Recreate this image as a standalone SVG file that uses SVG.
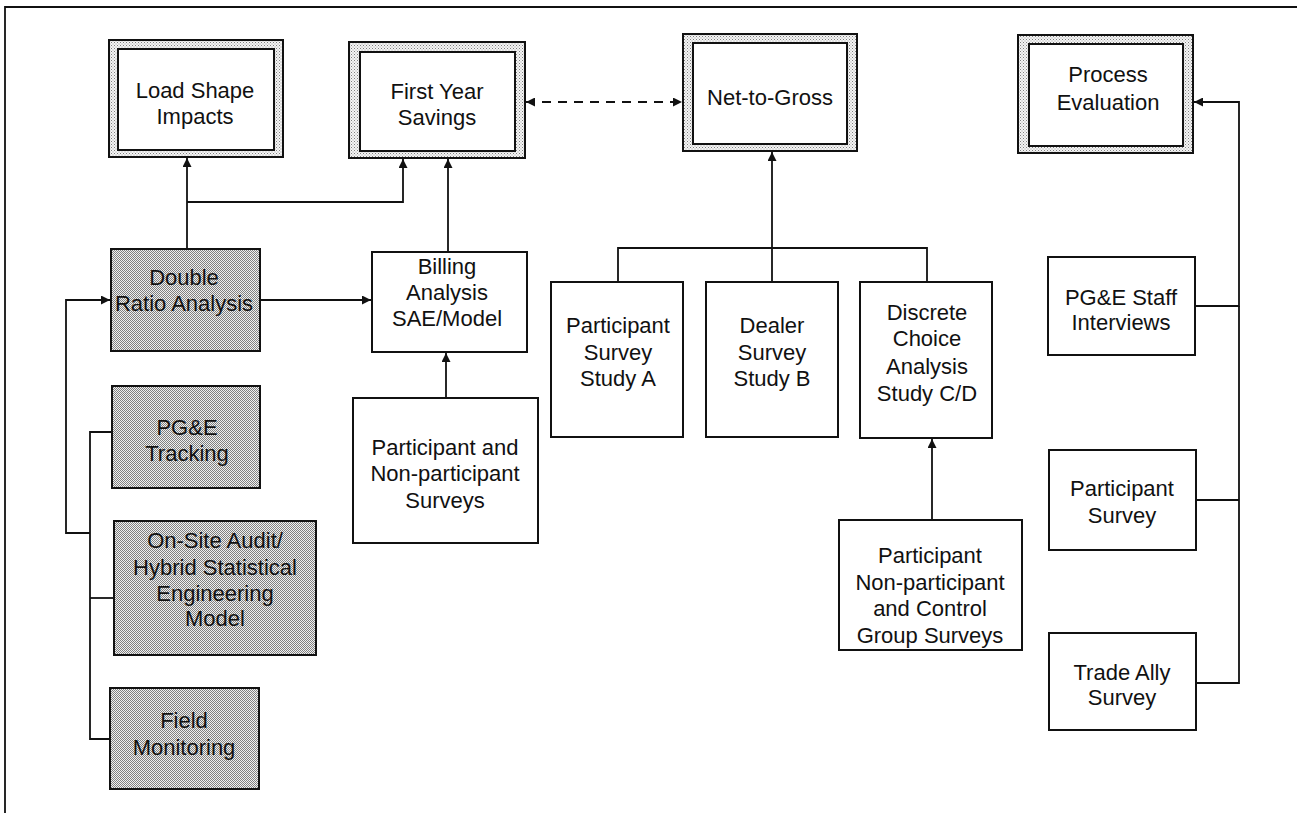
<svg xmlns="http://www.w3.org/2000/svg" width="1297" height="813" viewBox="0 0 1297 813">
<style>
text{font-family:"Liberation Sans",Arial,sans-serif;font-size:22px;fill:#111;text-anchor:middle}
.box{fill:#fff;stroke:#111;stroke-width:2}
.shade{fill:url(#dark);stroke:#111;stroke-width:2}
.ring{fill:url(#light);stroke:#111;stroke-width:2}
.inner{fill:#fff;stroke:#111;stroke-width:2}
.ln{fill:none;stroke:#111;stroke-width:1.8}
.dash{fill:none;stroke:#111;stroke-width:1.8;stroke-dasharray:9 7}
</style>
<defs>
<pattern id="dark" width="2" height="2" patternUnits="userSpaceOnUse">
<rect width="2" height="2" fill="#f0f0f0"/>
<rect width="1" height="1" fill="#808080"/>
<rect x="1" y="1" width="1" height="1" fill="#808080"/>
</pattern>
<pattern id="light" width="3" height="3" patternUnits="userSpaceOnUse">
<rect width="3" height="3" fill="#f4f4f4"/>
<rect width="1" height="1" fill="#808080"/>
<rect x="1.5" y="1.5" width="1" height="1" fill="#a0a0a0"/>
</pattern>
<marker id="ah" viewBox="0 0 10 10" refX="10" refY="5" markerWidth="5" markerHeight="5" orient="auto-start-reverse" markerUnits="strokeWidth">
<path d="M0,0 L10,5 L0,10 z" fill="#111"/>
</marker>
</defs>
<rect width="1297" height="813" fill="#fff"/>
<path class="ln" d="M5,813 V7 H1297"/>

<g id="connectors">
<path class="ln" d="M187,249 V158" marker-end="url(#ah)"/>
<path class="ln" d="M187,202 H403 V159" marker-end="url(#ah)"/>
<path class="ln" d="M448,252 V159" marker-end="url(#ah)"/>
<path class="ln" d="M260,300 H371" marker-end="url(#ah)"/>
<path class="ln" d="M90,533 H66 V300 H110" marker-end="url(#ah)"/>
<path class="ln" d="M112,432 H90 V739 H110"/>
<path class="ln" d="M90,598 H114"/>
<path class="ln" d="M446,398 V353" marker-end="url(#ah)"/>
<path class="dash" d="M526,102 H682" marker-start="url(#ah)" marker-end="url(#ah)"/>
<path class="ln" d="M618,282 V248 H927 V282"/>
<path class="ln" d="M772,282 V152" marker-end="url(#ah)"/>
<path class="ln" d="M932,520 V439" marker-end="url(#ah)"/>
<path class="ln" d="M1195,306 H1239 V102 H1194" marker-end="url(#ah)"/>
<path class="ln" d="M1196,500 H1239"/>
<path class="ln" d="M1196,683 H1239 V306"/>
</g>

<g id="load-shape-impacts">
<rect class="ring" x="109" y="40" width="174" height="117"/>
<rect class="inner" x="118" y="49" width="156" height="101"/>
<text x="195" y="98">Load Shape</text>
<text x="195" y="124">Impacts</text>
</g>
<g id="first-year-savings">
<rect class="ring" x="349" y="42" width="176" height="116"/>
<rect class="inner" x="360" y="52" width="155" height="99"/>
<text x="437" y="99">First Year</text>
<text x="437" y="125">Savings</text>
</g>
<g id="net-to-gross">
<rect class="ring" x="683" y="34" width="174" height="117"/>
<rect class="inner" x="693" y="43" width="154" height="101"/>
<text x="770" y="105">Net-to-Gross</text>
</g>
<g id="process-evaluation">
<rect class="ring" x="1018" y="35" width="175" height="118"/>
<rect class="inner" x="1029" y="44" width="154" height="102"/>
<text x="1108" y="82">Process</text>
<text x="1108" y="110">Evaluation</text>
</g>

<g id="double-ratio-analysis">
<rect class="shade" x="111" y="249" width="149" height="102"/>
<text x="184" y="285">Double</text>
<text x="184" y="311">Ratio Analysis</text>
</g>
<g id="pge-tracking">
<rect class="shade" x="112" y="386" width="148" height="102"/>
<text x="187" y="435">PG&amp;E</text>
<text x="187" y="461">Tracking</text>
</g>
<g id="on-site-audit">
<rect class="shade" x="114" y="521" width="202" height="134"/>
<text x="215" y="548">On-Site Audit/</text>
<text x="215" y="575">Hybrid Statistical</text>
<text x="215" y="601">Engineering</text>
<text x="215" y="626">Model</text>
</g>
<g id="field-monitoring">
<rect class="shade" x="110" y="688" width="149" height="101"/>
<text x="184" y="728">Field</text>
<text x="184" y="755">Monitoring</text>
</g>

<g id="billing-analysis">
<rect class="box" x="372" y="252" width="155" height="100"/>
<text x="447" y="274">Billing</text>
<text x="447" y="300">Analysis</text>
<text x="447" y="326">SAE/Model</text>
</g>
<g id="part-nonpart-surveys">
<rect class="box" x="353" y="398" width="185" height="145"/>
<text x="445" y="455">Participant and</text>
<text x="445" y="481">Non-participant</text>
<text x="445" y="508">Surveys</text>
</g>

<g id="study-a">
<rect class="box" x="551" y="282" width="132" height="155"/>
<text x="618" y="333">Participant</text>
<text x="618" y="360">Survey</text>
<text x="618" y="386">Study A</text>
</g>
<g id="study-b">
<rect class="box" x="706" y="282" width="132" height="155"/>
<text x="772" y="333">Dealer</text>
<text x="772" y="360">Survey</text>
<text x="772" y="386">Study B</text>
</g>
<g id="study-cd">
<rect class="box" x="860" y="282" width="132" height="156"/>
<text x="927" y="320">Discrete</text>
<text x="927" y="346">Choice</text>
<text x="927" y="374">Analysis</text>
<text x="927" y="401">Study C/D</text>
</g>
<g id="control-group-surveys">
<rect class="box" x="839" y="520" width="183" height="130"/>
<text x="930" y="563">Participant</text>
<text x="930" y="590">Non-participant</text>
<text x="930" y="616">and Control</text>
<text x="930" y="643">Group Surveys</text>
</g>

<g id="pge-staff-interviews">
<rect class="box" x="1048" y="257" width="147" height="98"/>
<text x="1121" y="305">PG&amp;E Staff</text>
<text x="1121" y="330">Interviews</text>
</g>
<g id="participant-survey">
<rect class="box" x="1049" y="450" width="147" height="100"/>
<text x="1122" y="496">Participant</text>
<text x="1122" y="523">Survey</text>
</g>
<g id="trade-ally-survey">
<rect class="box" x="1049" y="633" width="147" height="97"/>
<text x="1122" y="680">Trade Ally</text>
<text x="1122" y="705">Survey</text>
</g>
</svg>
